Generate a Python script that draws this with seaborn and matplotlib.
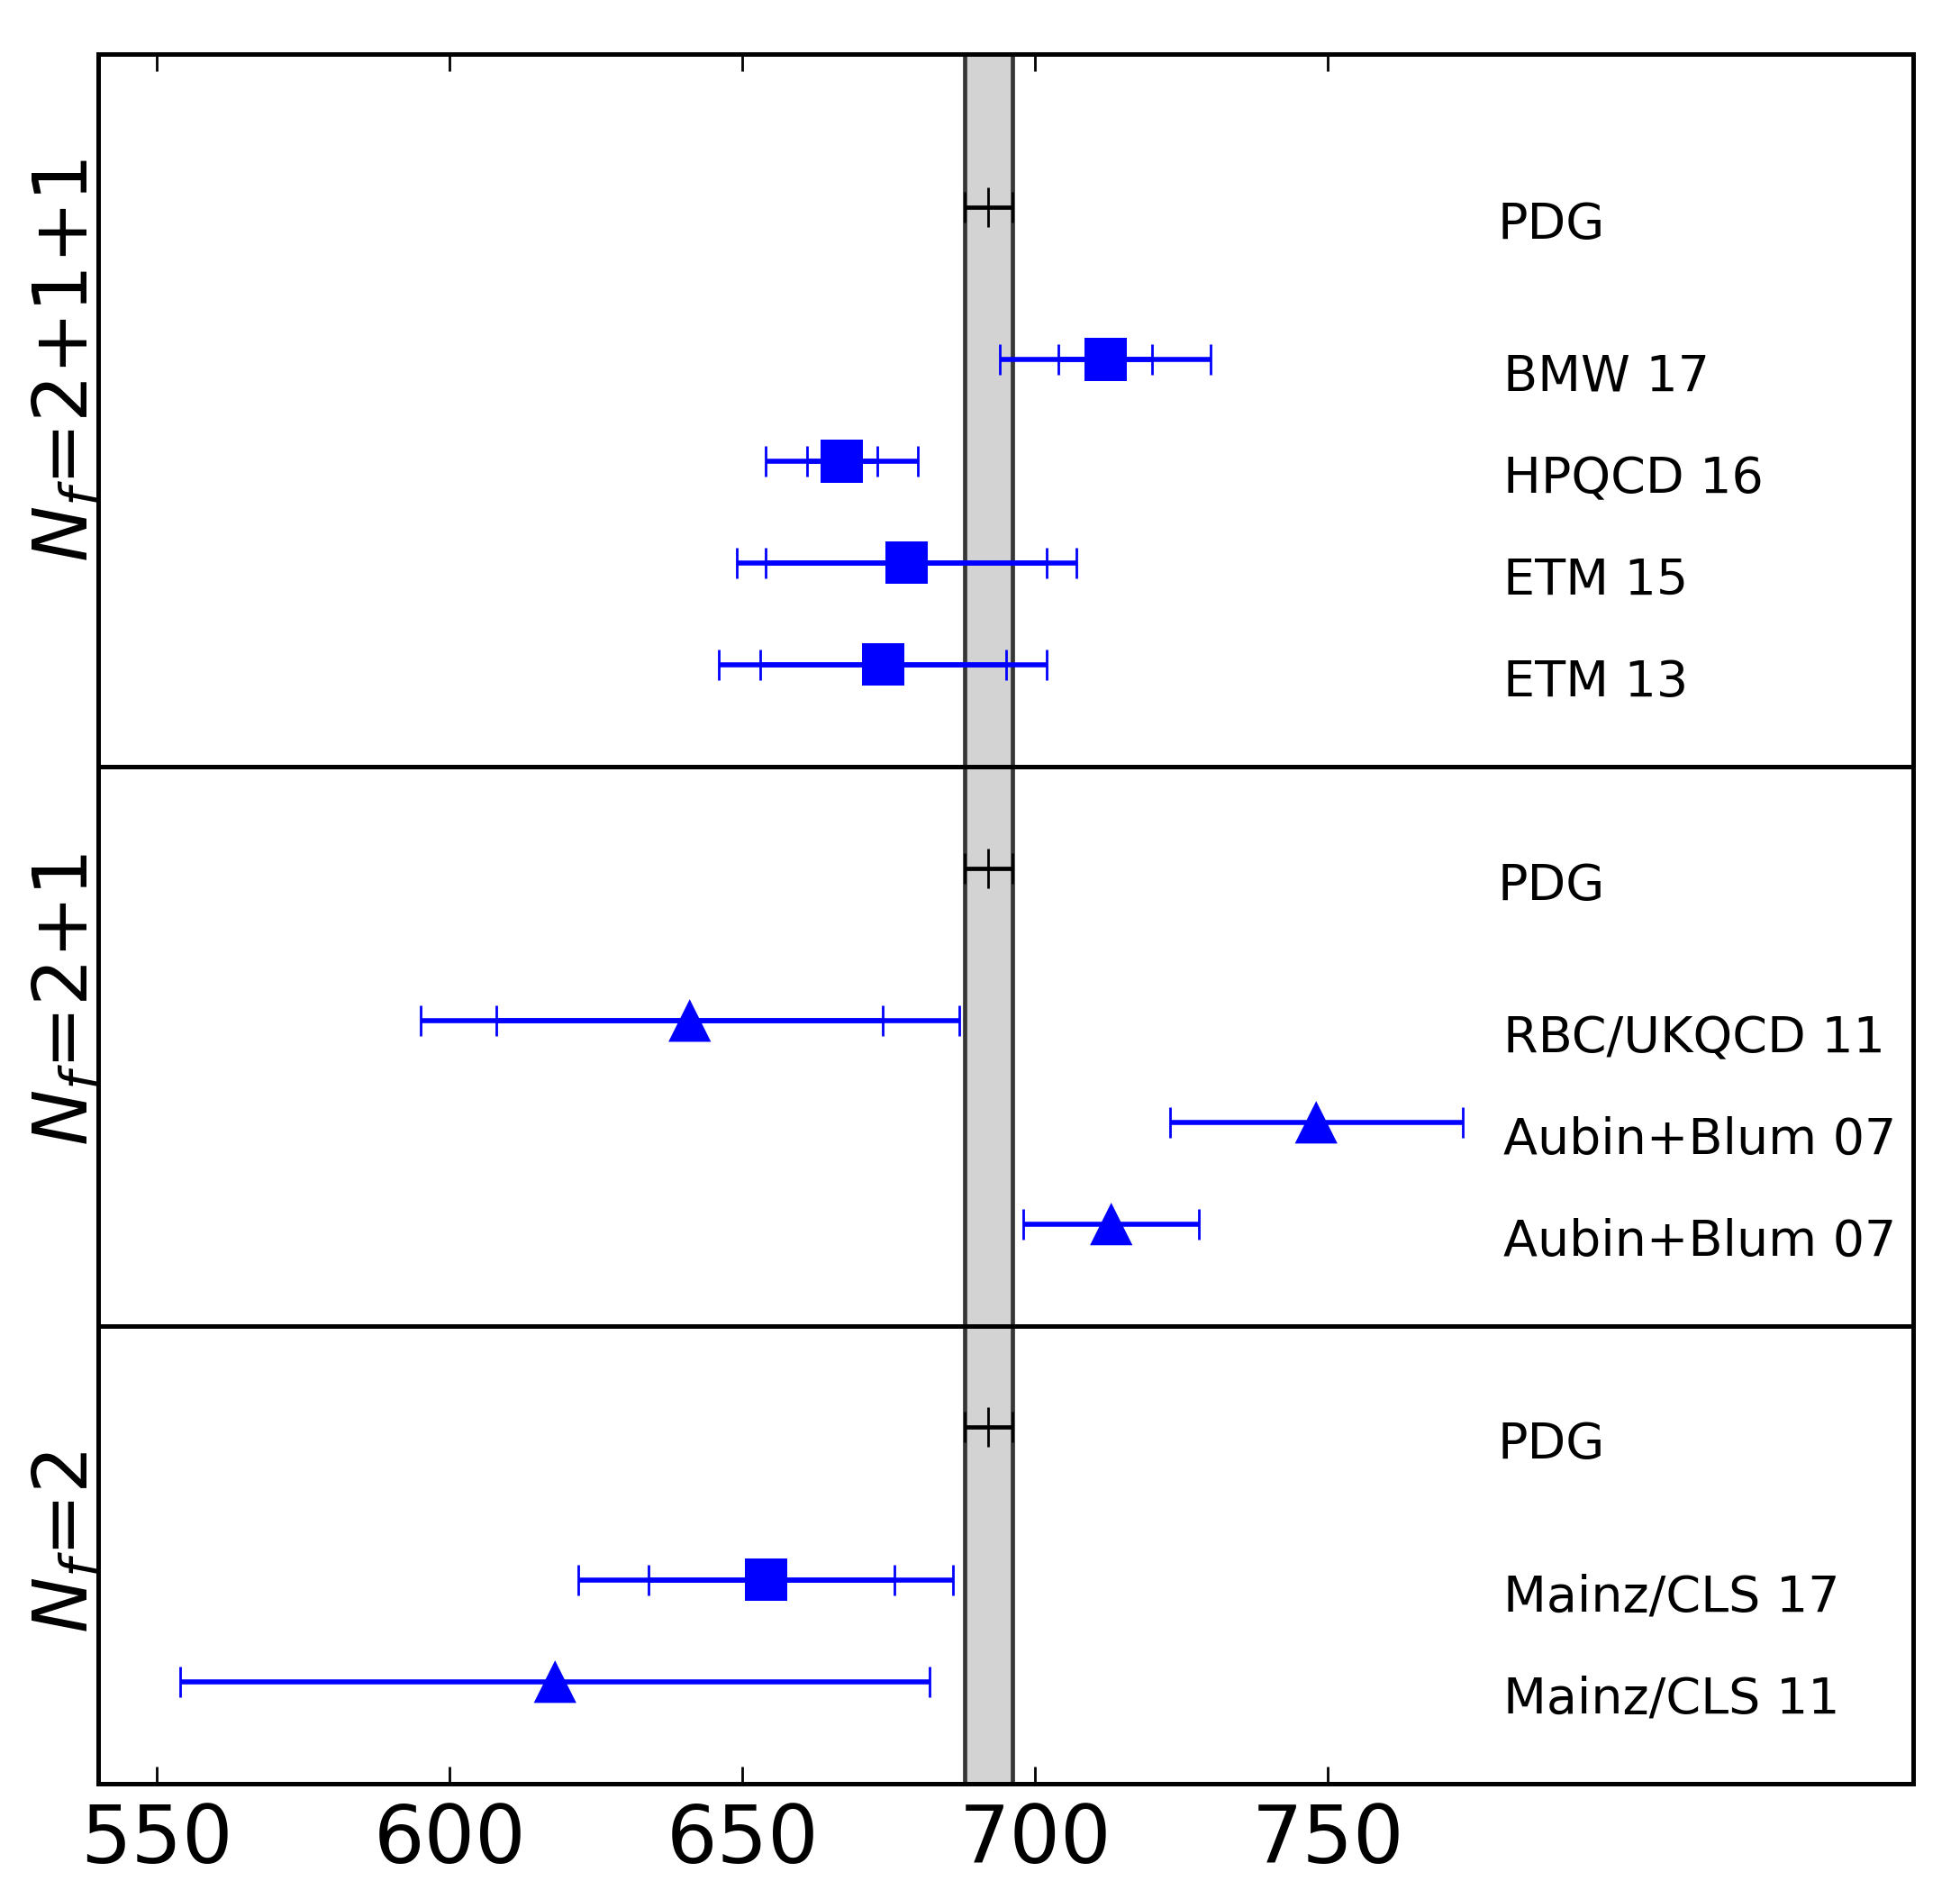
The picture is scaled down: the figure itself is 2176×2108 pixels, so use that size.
import numpy as np
import pandas as pd
import matplotlib
matplotlib.use("Agg")
import matplotlib.pyplot as plt
import seaborn as sns

# PDG reference value (drawn as grey band in every panel)
pdg_value = 692.0
pdg_err = 4.1

# N_f = 2+1+1
names_4 = ["ETM 13", "ETM 15", "HPQCD 16", "BMW 17"]
vals_4 = [674, 678, 667, 712]
stat_lo_4 = [21, 24, 6, 8]
stat_hi_4 = [21, 24, 6, 8]
tot_4 = [28, 29, 13, 18]
marks_4 = ["s", "s", "s", "s"]

# N_f = 2+1
names_3 = ["Aubin+Blum 07", "Aubin+Blum 07", "RBC/UKQCD 11"]
vals_3 = [713, 748, 641]
stat_lo_3 = [None, None, 33]
stat_hi_3 = [None, None, 33]
tot_3 = [15, 25, 46]
marks_3 = ["^", "^", "^"]

# N_f = 2
names_2 = ["Mainz/CLS 11", "Mainz/CLS 17"]
vals_2 = [618, 654]
stat_lo_2 = [None, 20]
stat_hi_2 = [None, 22]
tot_2 = [64, 32]
marks_2 = ["^", "s"]

panel_labels = ["$N_f$=2+1+1", "$N_f$=2+1", "$N_f$=2"]
xticks = [550, 600, 650, 700, 750]

sns.set_style("white")
plt.rcParams["font.family"] = ["DejaVu Sans"]
plt.rcParams["mathtext.fontset"] = "dejavusans"
plt.rcParams["text.color"] = "black"
plt.rcParams["xtick.color"] = "black"
plt.rcParams["ytick.color"] = "black"
plt.rcParams["axes.edgecolor"] = "black"

fig = plt.figure(figsize=(10.88, 10.54), dpi=200)
gs = fig.add_gridspec(3, 1, height_ratios=[7, 5.5, 4.5], hspace=0,
                      left=0.0502, right=0.9762, top=0.9714, bottom=0.0609)
axes = [fig.add_subplot(gs[i]) for i in range(3)]


def draw_panel(ax, names, vals, stat_lo, stat_hi, tot, marks, pdg_y, ylim, label, label_y):
    ys = np.arange(len(names))
    # PDG band
    ax.axvspan(pdg_value - pdg_err, pdg_value + pdg_err, facecolor="lightgray", lw=0, zorder=0)
    for xv in (pdg_value - pdg_err, pdg_value + pdg_err):
        ax.axvline(xv, color="#363636", lw=1.7, zorder=1)
    ax.errorbar(pdg_value, pdg_y, xerr=pdg_err, fmt="|", color="k", ms=16, mew=1,
                elinewidth=1.7, capsize=6, capthick=1, zorder=3)
    # total errors
    ax.errorbar(vals, ys, xerr=tot, fmt="none", ecolor="blue", elinewidth=2,
                capsize=6, capthick=1, zorder=3)
    # statistical errors
    for v, y, lo, hi in zip(vals, ys, stat_lo, stat_hi):
        if lo is None:
            continue
        ax.errorbar(v, y, xerr=[[lo], [hi]], fmt="none", ecolor="blue", elinewidth=2,
                    capsize=6, capthick=1, zorder=3)
    df = pd.DataFrame({"value": vals, "row": ys, "kind": marks})
    sns.scatterplot(data=df, x="value", y="row", style="kind",
                    markers={k: k for k in set(marks)}, s=289, color="blue",
                    linewidth=0, legend=False, ax=ax, zorder=4)
    # labels on the right
    ax.text(779, pdg_y - 0.31, "PDG", fontsize=20, va="baseline")
    for y, n in zip(ys, names):
        ax.text(780, y - 0.31, n, fontsize=20, va="baseline")
    ax.text(-0.0062, label_y, label, transform=ax.transAxes, rotation=90,
            rotation_mode="anchor", ha="center", va="baseline", fontsize=30)
    ax.set_xlim(540, 850)
    ax.set_ylim(*ylim)
    ax.set_xlabel("")
    ax.set_ylabel("")
    ax.set_yticks([])
    ax.set_xticks(xticks)
    for sp in ax.spines.values():
        sp.set_linewidth(1.8)
        sp.set_color("black")


draw_panel(axes[0], names_4, vals_4, stat_lo_4, stat_hi_4, tot_4, marks_4, 4.5, (-1, 6),
           panel_labels[0], 0.570)
draw_panel(axes[1], names_3, vals_3, stat_lo_3, stat_hi_3, tot_3, marks_3, 3.5, (-1, 4.5),
           panel_labels[1], 0.584)
draw_panel(axes[2], names_2, vals_2, stat_lo_2, stat_hi_2, tot_2, marks_2, 2.5, (-1, 3.5),
           panel_labels[2], 0.526)

axes[0].tick_params(axis="x", bottom=False, top=True, labelbottom=False, labeltop=False,
                    direction="in", length=7, width=1)
axes[1].tick_params(axis="x", bottom=False, top=False, labelbottom=False)
axes[2].tick_params(axis="x", bottom=True, top=False, labelbottom=True,
                    direction="in", length=7, width=1, labelsize=32, pad=7.5)

fig.savefig("out.png", dpi=200)
